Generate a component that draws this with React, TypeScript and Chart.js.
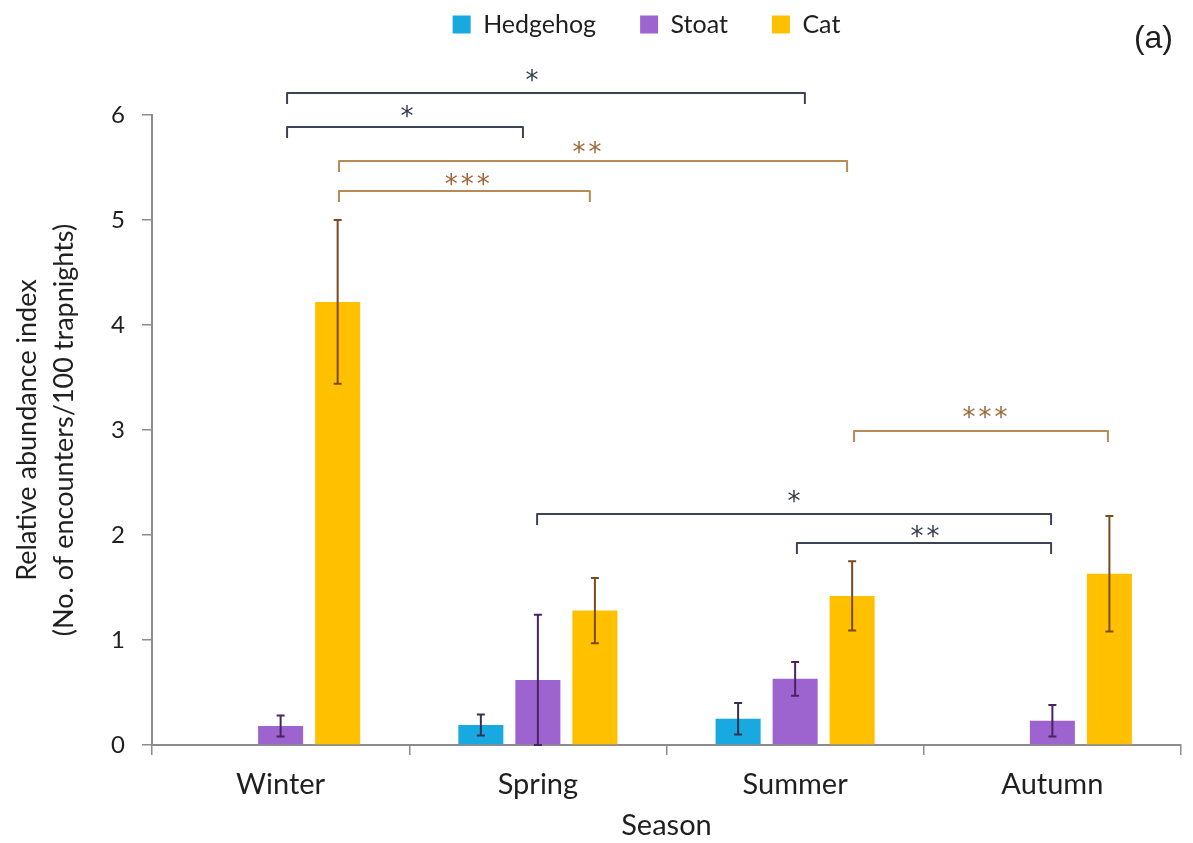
import { useEffect, useRef } from "react";
import { Chart, registerables } from "chart.js";

Chart.register(...registerables);

// Seasonal relative abundance (encounters per 100 trapnights), mean ± error
const seasons = ["Winter", "Spring", "Summer", "Autumn"];
const hedgehogMeans: (number | null)[] = [null, 0.19, 0.25, null];
const hedgehogErrors: (number | null)[] = [null, 0.1, 0.15, null];
const stoatMeans: (number | null)[] = [0.18, 0.62, 0.63, 0.23];
const stoatErrors: (number | null)[] = [0.1, 0.62, 0.16, 0.15];
const catMeans: (number | null)[] = [4.22, 1.28, 1.42, 1.63];
const catErrors: (number | null)[] = [0.78, 0.31, 0.33, 0.55];
const yTickValues = [0, 1, 2, 3, 4, 5, 6];

// Pairwise significance brackets: ends on the season axis (fractional index),
// bracket height and star position on the value axis.
const bracketFrom = [0.025, 0.025, 0.227, 0.227, 2.229, 0.997, 2.007];
const bracketTo = [2.038, 0.942, 2.202, 1.202, 3.216, 2.995, 2.995];
const bracketLevel = [6.21, 5.886, 5.562, 5.276, 2.99, 2.2, 1.924];
const bracketStars = ["*", "*", "**", "***", "***", "*", "**"];
const bracketStarAt = [0.977, 0.491, 1.191, 0.725, 2.738, 1.996, 2.505];
const bracketStarLevel = [6.38, 6.03, 5.69, 5.381, 3.171, 2.362, 2.038];
const bracketSpecies = ["stoat", "stoat", "cat", "cat", "cat", "stoat", "stoat"];

const FONT = 'Lato, "Open Sans", sans-serif';
const TEXT = "#1f1f1f";
const AXIS = "#8c8c8c";

const errorSets = [hedgehogErrors, stoatErrors, catErrors];
const errorColors = ["#33334f", "#4a2363", "#7a4a1f"];
const bracketColors: Record<string, string> = { stoat: "#3c4356", cat: "#b98a58" };
const starColors: Record<string, string> = { stoat: "#353c52", cat: "#9c6636" };

const errorBars = {
  id: "errorBars",
  afterDatasetsDraw(chart: any) {
    const { ctx } = chart;
    const yScale = chart.scales.y;
    chart.data.datasets.forEach((ds: any, di: number) => {
      const meta = chart.getDatasetMeta(di);
      const errs = errorSets[di];
      meta.data.forEach((bar: any, i: number) => {
        const v = ds.data[i];
        const e = errs[i];
        if (v == null || e == null) return;
        const x = bar.x;
        const top = yScale.getPixelForValue(v + e);
        const bot = yScale.getPixelForValue(Math.max(0, v - e));
        ctx.save();
        ctx.strokeStyle = errorColors[di];
        ctx.lineWidth = 2;
        ctx.beginPath();
        ctx.moveTo(x, top);
        ctx.lineTo(x, bot);
        ctx.moveTo(x - 4, top);
        ctx.lineTo(x + 4, top);
        ctx.moveTo(x - 4, bot);
        ctx.lineTo(x + 4, bot);
        ctx.stroke();
        ctx.restore();
      });
    });
  },
};

const annotations = {
  id: "annotations",
  afterUpdate(chart: any) {
    // place the legend row at the top of the canvas, centred over the plot
    const lg = chart.legend;
    if (!lg) return;
    const dx = 56;
    const dy = -lg.top - 32;
    lg.left += dx;
    lg.right += dx;
    lg.top += dy;
    lg.bottom += dy;
    lg.adjustHitBoxes();
  },
  afterDraw(chart: any) {
    const { ctx } = chart;
    const xs = chart.scales.x;
    const ys = chart.scales.y;
    ctx.save();
    bracketFrom.forEach((from, i) => {
      const x1 = xs.getPixelForValue(from);
      const x2 = xs.getPixelForValue(bracketTo[i]);
      const y = ys.getPixelForValue(bracketLevel[i]);
      const sp = bracketSpecies[i];
      ctx.strokeStyle = bracketColors[sp];
      ctx.lineWidth = 2;
      ctx.lineJoin = "round";
      ctx.beginPath();
      ctx.moveTo(x1, y + 11);
      ctx.lineTo(x1, y);
      ctx.lineTo(x2, y);
      ctx.lineTo(x2, y + 11);
      ctx.stroke();

      const stars = bracketStars[i];
      const cx = xs.getPixelForValue(bracketStarAt[i]);
      const cy = ys.getPixelForValue(bracketStarLevel[i]);
      ctx.fillStyle = starColors[sp];
      ctx.font = `26px "DejaVu Sans", sans-serif`;
      ctx.textAlign = "center";
      ctx.textBaseline = "alphabetic";
      const m = ctx.measureText("*");
      const baseY = cy + (m.actualBoundingBoxAscent - m.actualBoundingBoxDescent) / 2;
      const step = 16;
      for (let k = 0; k < stars.length; k++) {
        const sx = cx + (k - (stars.length - 1) / 2) * step;
        ctx.fillText("*", sx, baseY);
      }
    });

    ctx.fillStyle = TEXT;
    ctx.font = `32px "Liberation Sans", Arial, sans-serif`;
    ctx.textAlign = "right";
    ctx.textBaseline = "middle";
    ctx.fillText("(a)", 1173, 39);
    ctx.restore();
  },
};

export default function App() {
  const canvasRef = useRef<HTMLCanvasElement | null>(null);

  useEffect(() => {
    const canvas = canvasRef.current;
    if (!canvas) return;
    const chart = new Chart(canvas, {
      type: "bar",
      data: {
        labels: seasons,
        datasets: [
          { label: "Hedgehog", data: hedgehogMeans, backgroundColor: "#19a9e1" },
          { label: "Stoat", data: stoatMeans, backgroundColor: "#9d63cf" },
          { label: "Cat", data: catMeans, backgroundColor: "#ffc000" },
        ],
      },
      options: {
        responsive: false,
        animation: false,
        devicePixelRatio: 1,
        layout: { padding: { top: 36, right: 12, left: 0, bottom: 0 } },
        datasets: {
          bar: { categoryPercentage: 0.665, barPercentage: 0.79, borderWidth: 0 },
        },
        plugins: {
          legend: {
            position: "top",
            labels: {
              boxWidth: 18,
              boxHeight: 18,
              padding: 44,
              color: TEXT,
              font: { family: FONT, size: 25 },
            },
          },
          tooltip: { enabled: false },
        },
        scales: {
          x: {
            afterFit(scale: any) {
              scale.height = 98;
            },
            border: { color: AXIS, width: 2 },
            grid: {
              display: true,
              drawOnChartArea: false,
              drawTicks: true,
              tickLength: 10,
              color: AXIS,
              lineWidth: 1.5,
            },
            ticks: { color: TEXT, padding: 12, font: { family: FONT, size: 29 } },
            title: {
              display: true,
              text: "Season",
              color: TEXT,
              padding: { top: 0, bottom: 0 },
              font: { family: FONT, size: 29, lineHeight: 1.2 },
            },
          },
          y: {
            min: 0,
            max: 6,
            afterFit(scale: any) {
              scale.width = 152;
            },
            afterBuildTicks(scale: any) {
              scale.ticks = yTickValues.map((v) => ({ value: v }));
            },
            border: { color: AXIS, width: 2 },
            grid: {
              display: true,
              drawOnChartArea: false,
              drawTicks: true,
              tickLength: 10,
              color: AXIS,
              lineWidth: 1.5,
            },
            ticks: { color: TEXT, padding: 17, font: { family: FONT, size: 24 } },
            title: {
              display: true,
              text: ["Relative abundance index", "(No. of encounters/100 trapnights)"],
              color: TEXT,
              padding: { top: 8, bottom: 0 },
              font: { family: FONT, size: 27, lineHeight: 1.4 },
            },
          },
        },
      },
      plugins: [errorBars, annotations],
    });
    return () => chart.destroy();
  }, []);

  return (
    <div style={{ position: "fixed", left: 0, top: 0, width: 1193, height: 843, background: "#fff" }}>
      <canvas ref={canvasRef} width={1193} height={843} style={{ display: "block" }} />
    </div>
  );
}
